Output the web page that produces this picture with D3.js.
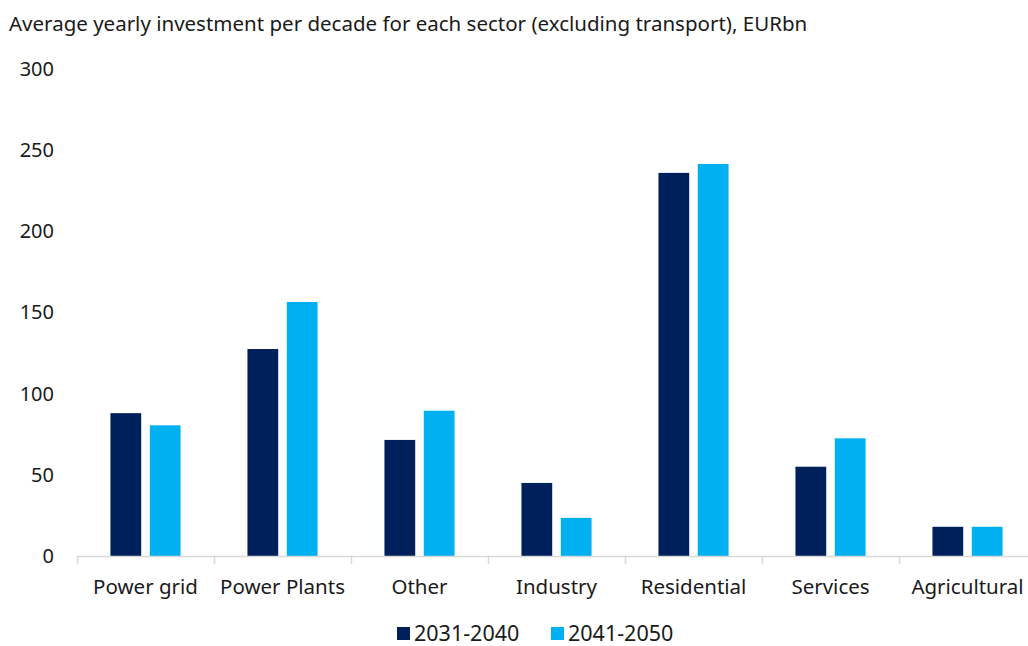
<!DOCTYPE html>
<html>
<head>
<meta charset="utf-8">
<script src="https://cdn.jsdelivr.net/npm/d3@7"></script>
<style>
  html, body { margin: 0; padding: 0; background: #fff; }
  svg { display: block; font-family: "Noto Sans", sans-serif; }
</style>
</head>
<body>
<svg id="chart" width="1028" height="646"></svg>
<script>
// Sector categories and average yearly investment (EURbn) per decade
const categories = ["Power grid", "Power Plants", "Other", "Industry", "Residential", "Services", "Agricultural"];
const seriesNames = ["2031-2040", "2041-2050"];
const values2031 = [88, 127.5, 71.5, 45, 236, 55, 18];
const values2041 = [80.5, 156.5, 89.5, 23.5, 241.5, 72.5, 18];
const yTicks = [0, 50, 100, 150, 200, 250, 300];
const colors = ["#00205B", "#00B0F0"];
const title = "Average yearly investment per decade for each sector (excluding transport), EURbn";

const svg = d3.select("#chart");
const plotLeft = 77, plotTop = 69, plotBottom = 556;
const step = 137;

const x0 = d3.scaleBand().domain(categories).range([plotLeft, plotLeft + step * categories.length]).padding(0);
const x1 = d3.scaleBand().domain(seriesNames).range([0, x0.bandwidth()])
  .paddingInner(0.218).paddingOuter(0.85);
const y = d3.scaleLinear().domain([0, 300]).range([plotBottom, plotTop]);

// title
svg.append("text")
  .attr("x", 9).attr("y", 31)
  .attr("font-size", 20.5)
  .attr("fill", "#1a1a1a")
  .text(title);

// y axis labels (no line)
const yAxis = d3.axisLeft(y).tickValues(yTicks).tickSize(0).tickPadding(0);
const yg = svg.append("g").attr("transform", "translate(54,0)").call(yAxis);
yg.select(".domain").remove();
yg.selectAll("text").attr("font-size", 20).attr("fill", "#1a1a1a")
  .attr("font-family", "'Noto Sans', sans-serif");

// bars
const rows = categories.map((c, i) => ({ cat: c, vals: [values2031[i], values2041[i]] }));
const groups = svg.append("g").selectAll("g").data(rows).join("g")
  .attr("transform", d => `translate(${x0(d.cat)},0)`);
groups.selectAll("rect")
  .data(d => d.vals.map((v, j) => ({ key: seriesNames[j], v, j })))
  .join("rect")
  .attr("x", d => x1(d.key))
  .attr("width", x1.bandwidth())
  .attr("y", d => y(d.v))
  .attr("height", d => y(0) - y(d.v))
  .attr("fill", d => colors[d.j]);

// x axis with category boundary ticks
const xg = svg.append("g").attr("transform", `translate(0,${plotBottom})`);
xg.append("line")
  .attr("x1", plotLeft).attr("x2", 1028)
  .attr("y1", 0.5).attr("y2", 0.5)
  .attr("stroke", "#d9d9d9").attr("stroke-width", 1.5);
const boundaries = categories.map(c => x0(c)).concat([x0(categories[categories.length - 1]) + x0.bandwidth()]);
xg.selectAll("line.tick").data(boundaries).join("line")
  .attr("class", "tick")
  .attr("x1", d => Math.round(d) + 0.5).attr("x2", d => Math.round(d) + 0.5)
  .attr("y1", 0).attr("y2", 8)
  .attr("stroke", "#d9d9d9").attr("stroke-width", 1.5);
xg.selectAll("text").data(categories).join("text")
  .attr("x", d => x0(d) + x0.bandwidth() / 2)
  .attr("y", 38)
  .attr("text-anchor", "middle")
  .attr("font-size", 20.5)
  .attr("fill", "#1a1a1a")
  .text(d => d);

// legend
const legend = svg.append("g");
const legendX = [397, 551];
seriesNames.forEach((s, i) => {
  legend.append("rect")
    .attr("x", legendX[i]).attr("y", 627)
    .attr("width", 13).attr("height", 13)
    .attr("fill", colors[i]);
  legend.append("text")
    .attr("x", legendX[i] + 17).attr("y", 641)
    .attr("font-size", 21.5)
    .attr("fill", "#1a1a1a")
    .text(s);
});
</script>
</body>
</html>
